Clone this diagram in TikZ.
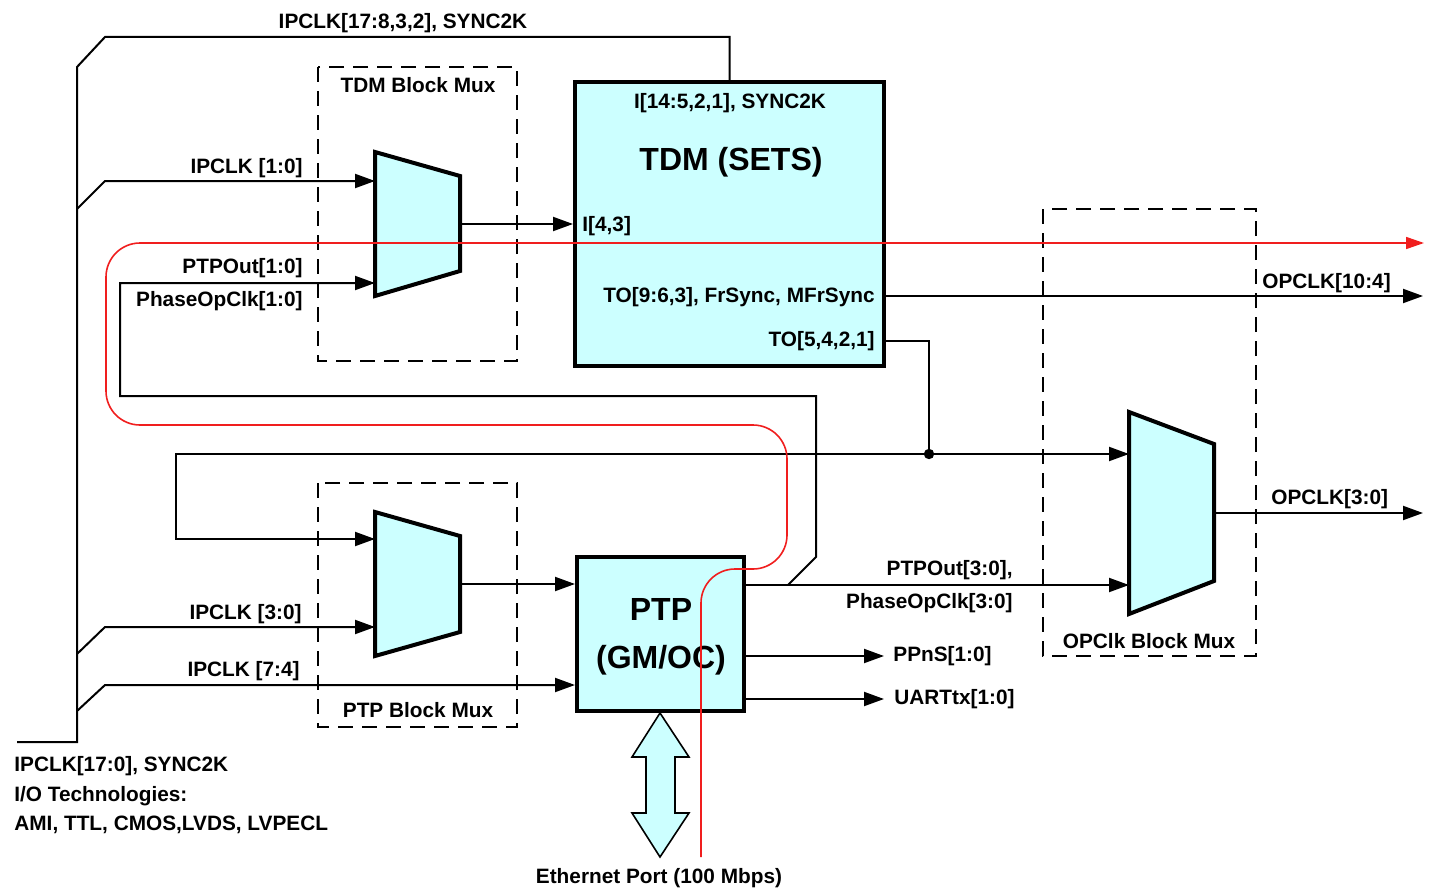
\documentclass[tikz,border=0pt]{standalone}
\usepackage{fontspec}
\setmainfont{Liberation Sans}
\usetikzlibrary{arrows.meta,positioning}

\definecolor{muxcyan}{RGB}{204,255,255}
\definecolor{ptpred}{RGB}{240,30,30}

\begin{document}
\begin{tikzpicture}[x=0.5pt, y=-0.5pt, >={Triangle[length=10pt,width=7pt]},
    sig/.style={line width=1pt},
    block/.style={draw, line width=2pt, fill=muxcyan, inner sep=0pt},
    mux/.style={draw, line width=2pt, fill=muxcyan, line join=miter},
    group/.style={draw, line width=1pt, dash pattern=on 7.5pt off 4.5pt},
    lbl/.style={font=\fontsize{10.4}{12.5}\selectfont\bfseries, inner sep=0pt},
    title/.style={font=\fontsize{16}{20}\selectfont\bfseries, inner sep=0pt, align=center}]
    \useasboundingbox (0,0) rectangle (1433,888);

    % Mux groups
    \draw [group] (318,67)   rectangle (517,361);
    \draw [group] (318,483)  rectangle (517,727);
    \draw [group] (1043,209) rectangle (1256,656);
    \node [lbl, anchor=base] at (418,92)   {TDM Block Mux};
    \node [lbl, anchor=base] at (418,717)  {PTP Block Mux};
    \node [lbl, anchor=base] at (1149,648) {OPClk Block Mux};

    % Blocks {tdm, ptp}
    \node [block, minimum width=154.5pt, minimum height=142pt] (tdm) at (729.5,224) {};
    \node [block, minimum width=83.5pt,  minimum height=77pt]  (ptp) at (660.5,634) {};
    \node [lbl, anchor=base]       at (730,109) {I[14:5,2,1], SYNC2K};
    \node [title, anchor=base]     at (731,170) {TDM (SETS)};
    \node [lbl, anchor=base west]  at (582,231) {I[4,3]};
    \node [lbl, anchor=base east] (tosync) at (875,302) {TO[9:6,3], FrSync, MFrSync};
    \node [lbl, anchor=base east] (tolow)  at (875,346) {TO[5,4,2,1]};
    \node [title] at (661,637) {PTP\\[4pt](GM/OC)};

    % Muxes and their ports
    \draw [mux] (375,152) -- (460,176) -- (460,271) -- (375,296) -- cycle;
    \draw [mux] (375,512) -- (460,536) -- (460,632) -- (375,656) -- cycle;
    \draw [mux] (1129,412) -- (1214,444) -- (1214,581) -- (1129,614) -- cycle;
    \coordinate (tmuxA) at (375,181);  \coordinate (tmuxB) at (375,283);  \coordinate (tmuxO) at (460,224);
    \coordinate (pmuxA) at (375,539);  \coordinate (pmuxB) at (375,627);  \coordinate (pmuxO) at (460,584);
    \coordinate (omuxA) at (1129,454); \coordinate (omuxB) at (1129,585); \coordinate (omuxO) at (1214,513);
    \coordinate (tap)     at (929,454);
    \coordinate (fbk)     at (788,585);
    \coordinate (ipclk74) at (105,685);
    \coordinate (opclkHi) at (1423,296);
    \coordinate (opclkLo) at (1423,513);
    \coordinate (ppnsEnd) at (884,656);
    \coordinate (uartEnd) at (884,699);

    % Input bus
    \draw [sig] (17,742) -- (77,742) -- (77,67) -- (105,37) -| (tdm.north);
    \draw [sig, ->] (77,209) -- (105,181) -- (tmuxA);
    \draw [sig, ->] (77,654) -- (105,627) -- (pmuxB);
    \draw [sig, ->] (77,711) -- (ipclk74) -- (ipclk74 -| ptp.west);
    \node [lbl, anchor=base] at (403,29) {IPCLK[17:8,3,2], SYNC2K};
    \node [lbl, anchor=base east] at (303,173) {IPCLK [1:0]};
    \node [lbl, anchor=base east] at (302,619) {IPCLK [3:0]};
    \node [lbl, anchor=base east] at (300,676) {IPCLK [7:4]};
    \node [lbl, anchor=base west] at (14,771) {IPCLK[17:0], SYNC2K};
    \node [lbl, anchor=base west] at (14,801) {I/O Technologies:};
    \node [lbl, anchor=base west] at (14,830) {AMI, TTL, CMOS,LVDS, LVPECL};

    % Paths
    \draw [sig, ->] (tmuxO) -- (tmuxO -| tdm.west);
    \draw [sig, ->] (pmuxO) -- (pmuxO -| ptp.west);
    \draw [sig, ->] (opclkHi -| tdm.east) -- (opclkHi);
    \draw [sig] (tdm.east |- tolow) -| (tap);
    \fill (tap) circle (2.6pt);
    \draw [sig, <->] (pmuxA) -| (176,454) -- (omuxA);
    \draw [sig, ->] (omuxB -| ptp.east) -- (omuxB);
    \draw [sig, ->] (fbk) -- (816,557) -- (816,396) -- (120,396) -- (120,283) -- (tmuxB);
    \draw [sig, ->] (ppnsEnd -| ptp.east) -- (ppnsEnd);
    \draw [sig, ->] (uartEnd -| ptp.east) -- (uartEnd);
    \draw [sig, ->] (omuxO) -- (opclkLo);
    \node [lbl, anchor=base east] at (303,273)  {PTPOut[1:0]};
    \node [lbl, anchor=base east] at (303,306)  {PhaseOpClk[1:0]};
    \node [lbl, anchor=base west] at (1262,288) {OPCLK[10:4]};
    \node [lbl, anchor=base west] at (1271,504) {OPCLK[3:0]};
    \node [lbl, anchor=base east] at (1013,575) {PTPOut[3:0],};
    \node [lbl, anchor=base east] at (1013,608) {PhaseOpClk[3:0]};
    \node [lbl, anchor=west] (ppns) at ([xshift=4.5pt]ppnsEnd) {PPnS[1:0]};
    \node [lbl, anchor=west] (uart) at ([xshift=5pt]uartEnd) {UARTtx[1:0]};

    % Ethernet port
    \draw [fill=muxcyan, line width=0.8pt] (660,713) -- (689,757) -- (675,757) -- (675,813) -- (689,813)
        -- (660,857) -- (632,813) -- (646,813) -- (646,757) -- (632,757) -- cycle;
    \node [lbl, anchor=base] at (659,883) {Ethernet Port (100 Mbps)};

    % PTP timing path
    \draw [ptpred, line width=0.8pt, rounded corners=17pt, -{Triangle[length=9pt,width=6pt]}]
        (701,857) -- (701,569) -- (787,569) -- (787,425) -- (106,425) -- (106,243) -- (1424,243);
\end{tikzpicture}
\end{document}
